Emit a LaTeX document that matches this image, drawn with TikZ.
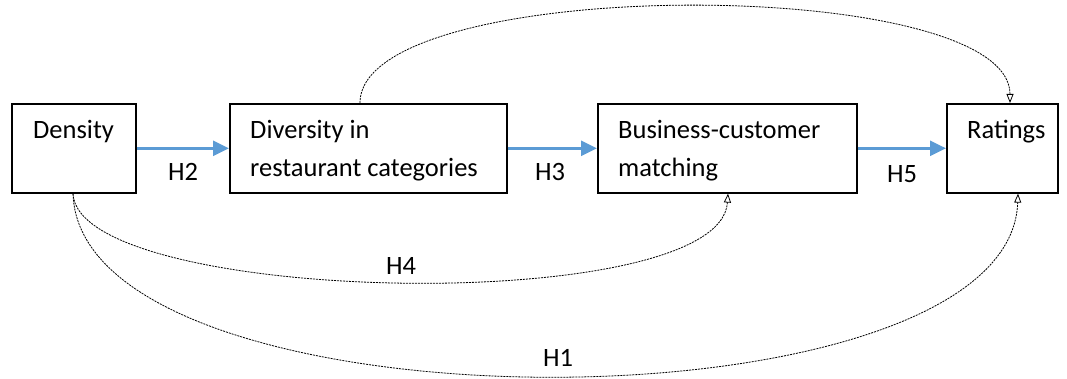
\documentclass[tikz,border=0pt]{standalone}
\usepackage{fontspec}
\setmainfont{Carlito}
\usetikzlibrary{arrows.meta}
\definecolor{flowblue}{HTML}{5B9BD5}
\begin{document}
\begin{tikzpicture}[x=1pt,y=-1pt,
  box/.style={draw=black, line width=1.6pt, anchor=north west, inner sep=0pt},
  txt/.style={anchor=base west, inner sep=0pt, font=\fontsize{26.5}{38}\selectfont},
  hyp/.style={inner sep=0pt, font=\fontsize{26.5}{38}\selectfont},
  flow/.style={draw=flowblue, line width=2.8pt, -{Triangle[length=16pt,width=15pt]}},
  link/.style={draw=black, line width=0.8pt, dash pattern=on 2pt off 1pt,
    -{Triangle[open,length=9pt,width=7pt]}}]
\useasboundingbox (0,0) rectangle (1067,379);

% boxes
\node[box, minimum width=124pt, minimum height=89pt] (dens) at (11,103) {};
\node[box, minimum width=277pt, minimum height=89pt] (div) at (229,103) {};
\node[box, minimum width=259pt, minimum height=89pt] (bcm) at (597,103) {};
\node[box, minimum width=111pt, minimum height=89pt] (rat) at (946,103) {};

% box texts
\node[txt] (densT) at (33,139) {Density};
\node[txt] (divT1) at (250,139) {Diversity in};
\node[txt] (divT2) at (250,177) {restaurant categories};
\node[txt] (bcmT1) at (618,139) {Business-customer};
\node[txt] (bcmT2) at (618,177) {matching};
\node[txt] (ratT) at (967,139) {Ratings};

% direct paths
\draw[flow] (dens.east) -- (div.west);
\draw[flow] (div.east) -- (bcm.west);
\draw[flow] (bcm.east) -- (rat.west);

% indirect paths
\draw[link] ([xshift=131pt]div.north west) .. controls (360,-26) and (1010,-26) .. ([xshift=64pt]rat.north west);
\draw[link] ([xshift=62pt]dens.south west) .. controls (78,305) and (720,318) .. ([xshift=131pt]bcm.south west);
\draw[link] ([xshift=62pt]dens.south west) .. controls (80,437) and (1010,437) .. ([xshift=72pt]rat.south west);

% hypothesis labels
\node[hyp] (h2) at (183,172) {H2};
\node[hyp] (h3) at (550,172) {H3};
\node[hyp] (h5) at (902,174) {H5};
\node[hyp] (h4) at (401,266) {H4};
\node[hyp] (h1) at (558,358) {H1};
\end{tikzpicture}
\end{document}
